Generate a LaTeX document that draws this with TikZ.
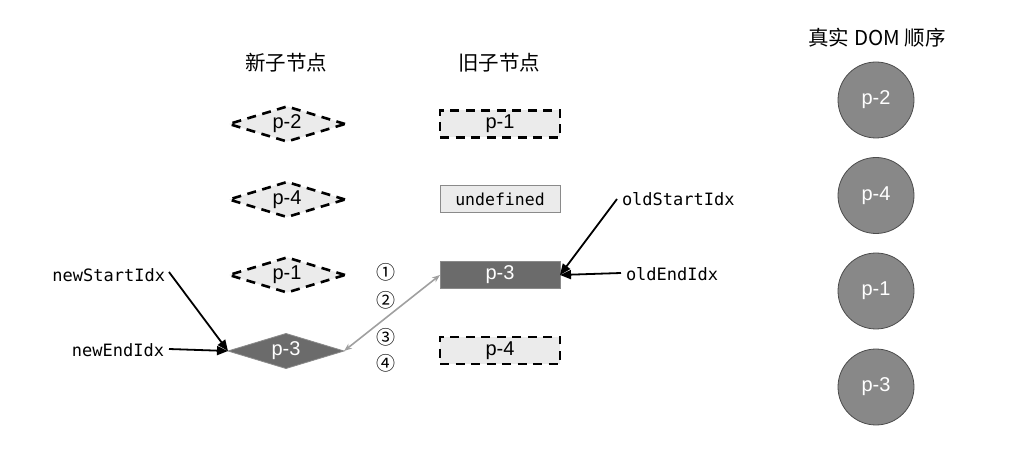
\documentclass[tikz,border=0pt]{standalone}
\usepackage{fontspec}
\setmainfont{Liberation Sans}
\newfontfamily\cjk{Noto Sans CJK SC}
\newfontfamily\monof{DejaVu Sans Mono}
\newfontfamily\dvs{DejaVu Sans}
\usetikzlibrary{shapes.geometric,arrows.meta}
\definecolor{lightfill}{HTML}{EBEBEB}
\definecolor{darkfill}{HTML}{6B6B6B}
\definecolor{circfill}{HTML}{888888}
\definecolor{edgegray}{HTML}{8A8A8A}
\definecolor{arrowgray}{HTML}{A0A0A0}
\tikzset{
  every node/.style={inner sep=0pt, outer sep=0pt},
  head/.style={font=\cjk\fontsize{20.5}{24}\selectfont},
  dia/.style={diamond, aspect=3.4, minimum width=116pt, minimum height=35pt, font=\fontsize{20}{22}\selectfont},
  newdash/.style={dia, fill=lightfill, draw=black, line width=2.6pt, dash pattern=on 9pt off 6.5pt},
  newsolid/.style={dia, fill=darkfill, draw=edgegray, line width=0.8pt, text=white},
  box/.style={rectangle, minimum width=120pt, minimum height=27pt, font=\fontsize{20}{22}\selectfont},
  olddash/.style={box, fill=lightfill, draw=black, line width=2.6pt, dash pattern=on 9pt off 6.5pt},
  oldplain/.style={box, fill=lightfill, draw=edgegray, line width=1pt, font=\monof\fontsize{16.5}{20}\selectfont},
  oldsolid/.style={box, fill=darkfill, draw=edgegray, line width=0.8pt, text=white},
  dom/.style={circle, minimum size=76pt, fill=circfill, draw=black!70, line width=0.8pt, text=white, font=\fontsize{20}{22}\selectfont},
  idx/.style={font=\monof\fontsize{17}{20}\selectfont},
  num/.style={font=\cjk\fontsize{19}{22}\selectfont},
  ptr/.style={line width=1.8pt, -{Triangle[length=11pt,width=9pt]}},
  swap/.style={arrowgray, line width=1.6pt, {Stealth[length=8pt,width=6pt]}-{Stealth[length=8pt,width=6pt]}}
}
\begin{document}
\begin{tikzpicture}[x=1pt,y=-1pt]
\useasboundingbox (0,0) rectangle (1021,449);
% headings
\node[head] (hnew) at (286,63) {新子节点};
\node[head] (hold) at (499,63) {旧子节点};
\node[head] (hdom) at (877,38) {真实 DOM 顺序};
% new children
\node[newdash] (n2) at (287,124) {p-2};
\node[newdash] (n4) at (287,199.5) {p-4};
\node[newdash] (n1) at (287,275) {p-1};
\node[newsolid] (n3) at (286,351) {p-3};
% old children
\node[olddash] (o1) at (500,124) {p-1};
\node[oldplain] (ou) at (500,199.5) {undefined};
\node[oldsolid] (o3) at (500,275) {p-3};
\node[olddash] (o4) at (500,350.5) {p-4};
% real DOM
\node[dom] (d2) at (876,100) {p-2};
\node[dom] (d4) at (876,195.5) {p-4};
\node[dom] (d1) at (876,291) {p-1};
\node[dom] (d3) at (876,387) {p-3};
% circled numbers
\node[num] (c1) at (386,272) {①};
\node[num] (c2) at (386,300) {②};
\node[num] (c3) at (386,337) {③};
\node[num] (c4) at (386,363) {④};
% index labels
\node[idx, anchor=east] (nsi) at (165,275) {newStartIdx};
\node[idx, anchor=east] (nei) at (164,350) {newEndIdx};
\node[idx, anchor=west] (osi) at (622,199) {oldStartIdx};
\node[idx, anchor=west] (oei) at (626,274) {oldEndIdx};
% pointers
\draw[ptr] ([xshift=4pt,yshift=3pt]nsi.east) -- (n3.west);
\draw[ptr] ([xshift=5pt,yshift=1pt]nei.east) -- (n3.west);
\draw[ptr] ([xshift=-5pt]osi.west) -- (o3.east);
\draw[ptr] ([xshift=-5pt,yshift=1pt]oei.west) -- (o3.east);
\draw[swap] (n3.east) -- (o3.west);
\end{tikzpicture}
\end{document}
